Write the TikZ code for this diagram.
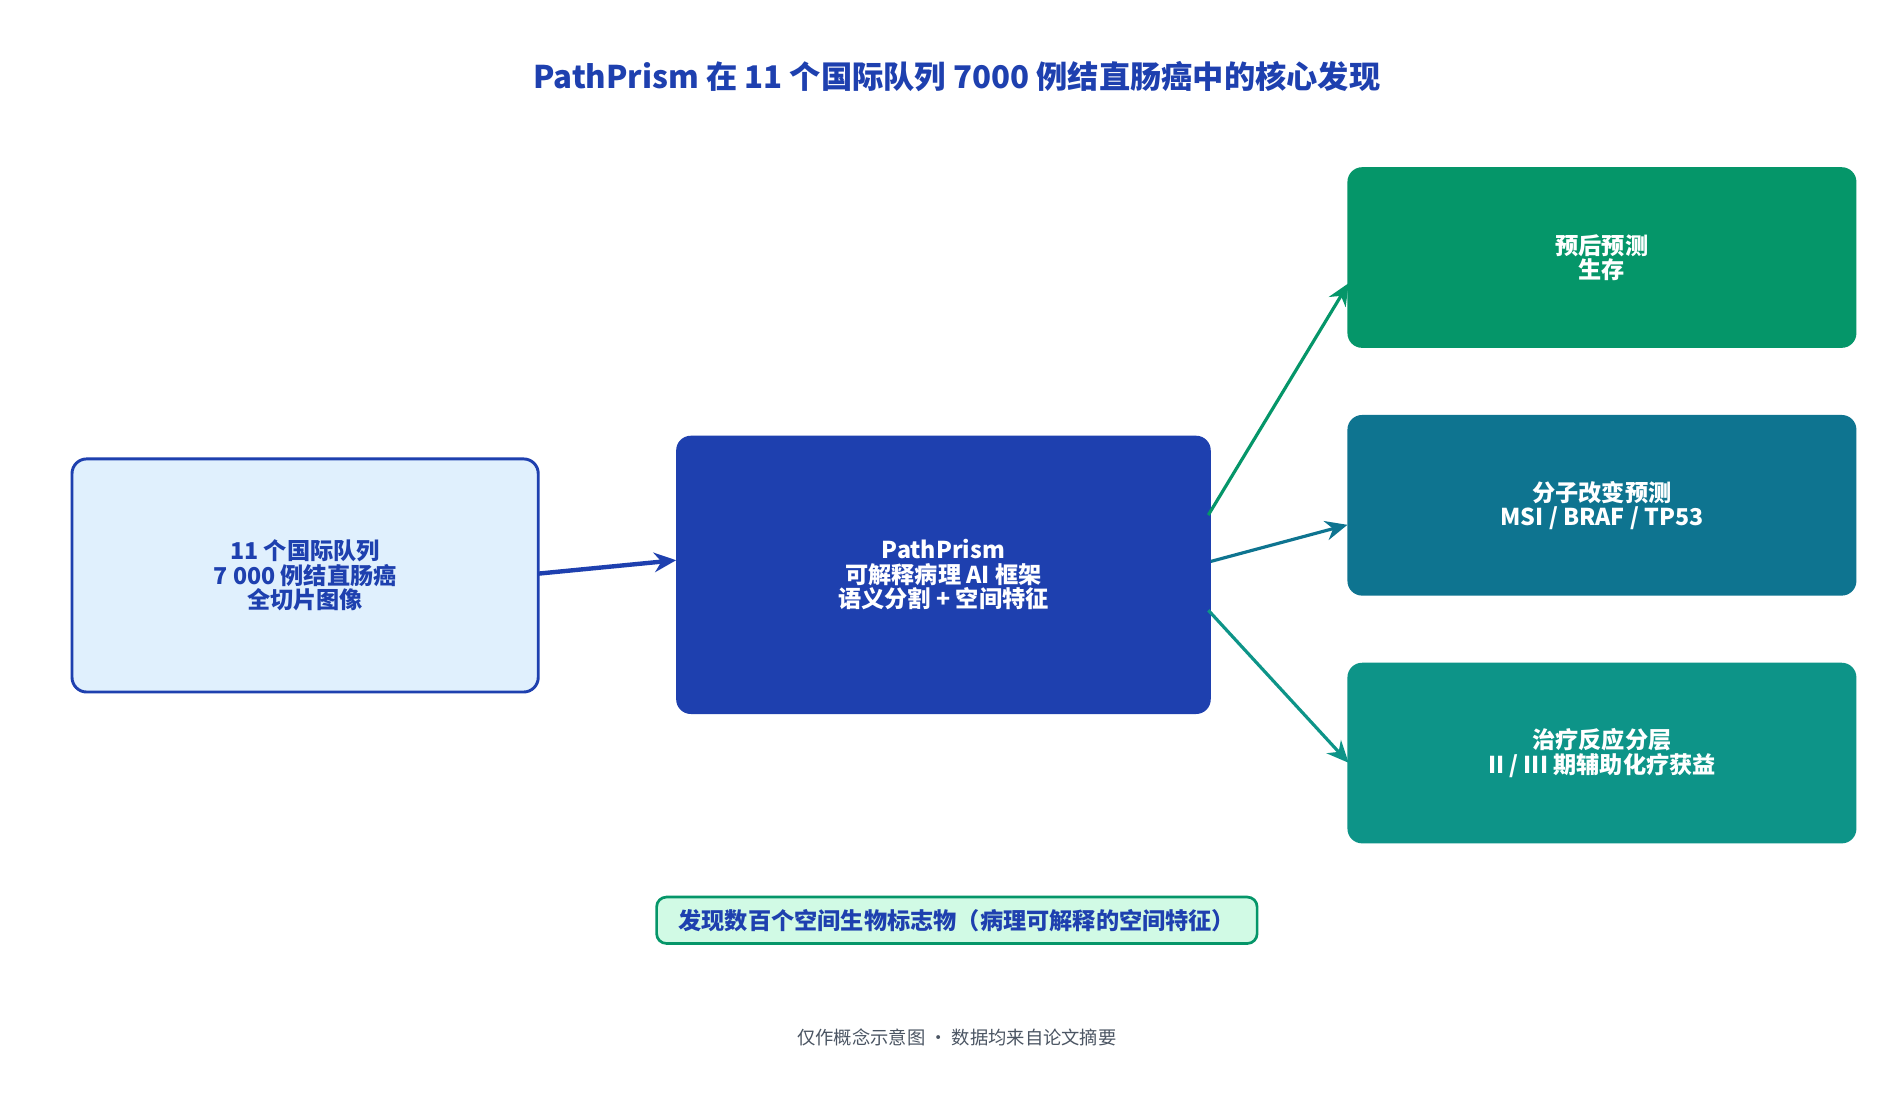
\documentclass[tikz,border=0pt]{standalone}
\usepackage{fontspec}
\setmainfont{Noto Sans CJK SC}
\usetikzlibrary{arrows.meta}
\definecolor{navy}{HTML}{1E40AF}
\definecolor{lblue}{HTML}{E0F0FD}
\definecolor{g1}{HTML}{059669}
\definecolor{g2}{HTML}{0E7490}
\definecolor{g3}{HTML}{0D9488}
\definecolor{mint}{HTML}{D1FAE5}
\definecolor{grey}{HTML}{4B5563}
\begin{document}
\begin{tikzpicture}[x=0.5pt,y=-0.5pt,
  box/.style={rounded corners=6pt,align=center,font=\bfseries\fontsize{9.5}{10}\selectfont,inner sep=0pt},
  arr/.style={line width=1.3pt,-{Stealth[length=9pt,width=8pt]}}]
\useasboundingbox[fill=white] (0,0) rectangle (1560,904);
\node[font=\bfseries\fontsize{12.8}{14}\selectfont,text=navy] (t) at (784,63) {PathPrism 在 11 个国际队列 7000 例结直肠癌中的核心发现};
\node[box,draw=navy,line width=1.2pt,fill=lblue,text=navy,minimum width=191pt,minimum height=95.5pt] (a) at (250,471.5) {11 个国际队列\\7 000 例结直肠癌\\全切片图像};
\node[box,fill=navy,text=white,minimum width=219pt,minimum height=114pt] (c) at (773,471) {PathPrism\\可解释病理 AI 框架\\语义分割 + 空间特征};
\node[box,fill=g1,text=white,minimum width=208.5pt,minimum height=74pt] (r1) at (1312.5,211) {预后预测\\生存};
\node[box,fill=g2,text=white,minimum width=208.5pt,minimum height=74pt] (r2) at (1312.5,414) {分子改变预测\\MSI / BRAF / TP53};
\node[box,fill=g3,text=white,minimum width=208.5pt,minimum height=74pt] (r3) at (1312.5,617) {治疗反应分层\\II / III 期辅助化疗获益};
\node[box,rounded corners=4pt,draw=g1,line width=1.1pt,fill=mint,text=navy,minimum width=246pt,minimum height=19pt] (b) at (784,754) {发现数百个空间生物标志物（病理可解释的空间特征）};
\node[font=\fontsize{7.5}{9}\selectfont,text=grey] (f) at (784,850) {仅作概念示意图 · 数据均来自论文摘要};
\coordinate (a1) at (441,470); \coordinate (c1) at (554,459);
\coordinate (o1) at (990,422); \coordinate (o2) at (992,460); \coordinate (o3) at (990,500);
\coordinate (i1) at (1105,232); \coordinate (i2) at (1104,430); \coordinate (i3) at (1105,625);
\draw[arr,navy,line width=1.8pt] (a1) -- (c1);
\draw[arr,g1] (o1) -- (i1);
\draw[arr,g2] (o2) -- (i2);
\draw[arr,g3] (o3) -- (i3);
\end{tikzpicture}
\end{document}
